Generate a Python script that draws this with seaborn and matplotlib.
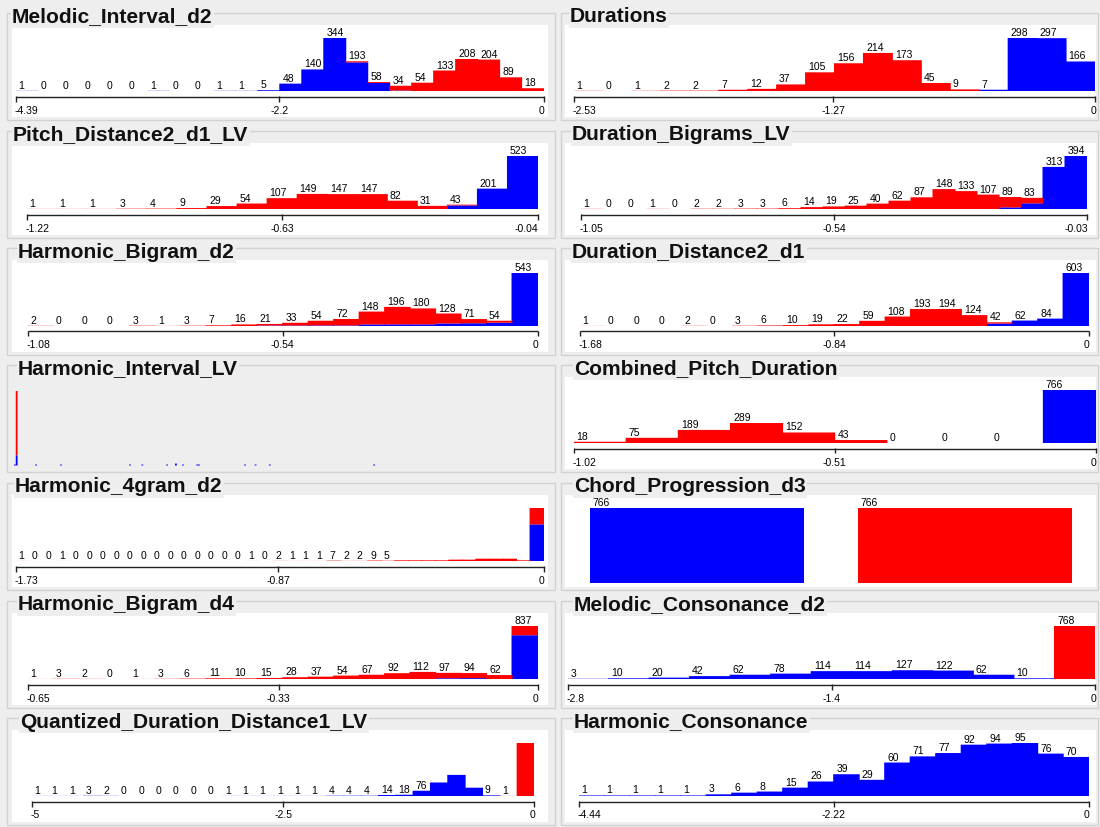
import numpy as np
import pandas as pd
import matplotlib
matplotlib.use("Agg")
import matplotlib.pyplot as plt
import seaborn as sns
from matplotlib import transforms
from matplotlib.patches import Rectangle

sns.set_theme(style="white")
plt.rcParams["font.family"] = ["Liberation Sans", "DejaVu Sans"]

W, H = 1100, 827
ROW = 117.5
BG = "#eeeeee"
EDGE = "#d2d2d2"
AXIS = "#222222"
PALETTE = {"blue": "#0000ff", "red": "#ff0000"}

# ---------------- bin counts (blue class / red class) ----------------
mel_int_blue = [1, 0, 0, 0, 0, 0, 1, 0, 0, 1, 1, 5, 48, 140, 344, 186, 52, 3, 0, 0, 0, 0, 0, 0]
mel_int_red = [0, 0, 0, 0, 0, 0, 0, 0, 0, 0, 0, 0, 0, 0, 0, 7, 6, 31, 54, 133, 208, 204, 89, 18]

dur_blue = [0, 0, 0, 0, 0, 0, 0, 0, 0, 0, 0, 0, 0, 0, 7, 298, 297, 166]
dur_red = [1, 0, 1, 2, 2, 7, 12, 37, 105, 156, 214, 173, 45, 9, 0, 0, 0, 0]

pd2_blue = [0, 0, 0, 0, 0, 0, 0, 0, 0, 0, 0, 0, 0, 0, 35, 201, 523]
pd2_red = [1, 1, 1, 3, 4, 9, 29, 54, 107, 149, 147, 147, 82, 31, 8, 0, 0]

dbg_blue = [0, 0, 0, 0, 0, 0, 0, 0, 0, 0, 0, 0, 0, 0, 0, 0, 0, 0, 0, 12, 42, 313, 394]
dbg_red = [1, 0, 0, 1, 0, 2, 2, 3, 3, 6, 14, 19, 25, 40, 62, 87, 148, 133, 107, 77, 41, 0, 0]

hb2_blue = [0, 0, 0, 0, 0, 0, 0, 0, 0, 5, 5, 6, 6, 16, 17, 17, 26, 28, 34, 543]
hb2_red = [2, 0, 0, 0, 3, 1, 3, 7, 16, 16, 28, 48, 66, 132, 179, 163, 102, 43, 20, 0]

dd2_blue = [0, 0, 0, 0, 0, 0, 0, 0, 0, 0, 0, 0, 0, 0, 0, 0, 28, 62, 84, 603]
dd2_red = [1, 0, 0, 0, 2, 0, 3, 6, 10, 19, 22, 59, 108, 193, 194, 124, 14, 0, 0, 0]

# harmonic interval: sparse bins on a 300-bin grid
hi_bins = [0, 1, 12, 26, 65, 72, 86, 91, 95, 103, 104, 130, 136, 144, 203]
hi_blue = [10, 105, 10, 10, 10, 10, 10, 20, 10, 10, 10, 10, 10, 10, 10]
hi_red = [0, 661, 0, 0, 0, 0, 0, 0, 0, 0, 0, 0, 0, 0, 0]

cpd_blue = [0, 0, 0, 0, 0, 0, 0, 0, 0, 766]
cpd_red = [18, 75, 189, 289, 152, 43, 0, 0, 0, 0]

h4_blue = [0] * 38 + [760]
h4_red = [1, 0, 0, 1, 0, 0, 0, 0, 0, 0, 0, 0, 0, 0, 0, 0, 0, 1, 0, 2, 1, 1, 1, 7, 2, 2, 9, 5,
          14, 14, 14, 14, 28, 28, 48, 48, 48, 14, 340]
h4_labels = [1, 0, 0, 1, 0, 0, 0, 0, 0, 0, 0, 0, 0, 0, 0, 0, 0, 1, 0, 2, 1, 1, 1, 7, 2, 2, 9, 5] + [None] * 11

chord_classes = ["blue", "red"]
chord_counts = [766, 766]

hb4_blue = [0, 0, 0, 0, 0, 0, 0, 0, 0, 0, 0, 0, 0, 0, 0, 0, 12, 14, 0, 691]
hb4_red = [1, 3, 2, 0, 1, 3, 6, 11, 10, 15, 28, 37, 54, 67, 92, 112, 85, 80, 62, 146]

mc_blue = [3, 10, 20, 42, 62, 78, 114, 114, 127, 122, 62, 10, 0]
mc_red = [0, 0, 0, 0, 0, 0, 0, 0, 0, 0, 0, 0, 768]

qdd_blue = [1, 1, 1, 3, 2, 0, 0, 0, 0, 0, 0, 1, 1, 1, 1, 1, 1, 4, 4, 4, 14, 18, 76, 195, 305, 120, 9, 1, 0]
qdd_red = [0] * 28 + [766]
qdd_labels = [1, 1, 1, 3, 2, 0, 0, 0, 0, 0, 0, 1, 1, 1, 1, 1, 1, 4, 4, 4, 14, 18, 76, None, None, None, 9, 1, None]

hc_blue = [1, 1, 1, 1, 1, 3, 6, 8, 15, 26, 39, 29, 60, 71, 77, 92, 94, 95, 76, 70]
hc_red = [0] * 20

# (title, column, row, blue, red, range, middle tick, tick texts, axis pixel span, labels)
PANELS = [
    ("Melodic_Interval_d2", 0, 0, mel_int_blue, mel_int_red, (-4.39, 0), -2.2, ("-4.39", "-2.2", "0"), (16, 543.6), None),
    ("Pitch_Distance2_d1_LV", 0, 1, pd2_blue, pd2_red, (-1.22, -0.04), -0.63, ("-1.22", "-0.63", "-0.04"), (26.8, 537.5), None),
    ("Harmonic_Bigram_d2", 0, 2, hb2_blue, hb2_red, (-1.08, 0), -0.54, ("-1.08", "-0.54", "0"), (27.9, 537.5), None),
    ("Harmonic_4gram_d2", 0, 4, h4_blue, h4_red, (-1.73, 0), -0.87, ("-1.73", "-0.87", "0"), (16, 543.6), h4_labels),
    ("Harmonic_Bigram_d4", 0, 5, hb4_blue, hb4_red, (-0.65, 0), -0.33, ("-0.65", "-0.33", "0"), (27.9, 537.5), None),
    ("Quantized_Duration_Distance1_LV", 0, 6, qdd_blue, qdd_red, (-5, 0), -2.5, ("-5", "-2.5", "0"), (31.6, 534.5), qdd_labels),
    ("Durations", 1, 0, dur_blue, dur_red, (-2.53, 0), -1.27, ("-2.53", "-1.27", "0"), (574, 1095), None),
    ("Duration_Bigrams_LV", 1, 1, dbg_blue, dbg_red, (-1.05, -0.03), -0.54, ("-1.05", "-0.54", "-0.03"), (581, 1087), None),
    ("Duration_Distance2_d1", 1, 2, dd2_blue, dd2_red, (-1.68, 0), -0.84, ("-1.68", "-0.84", "0"), (580, 1088.5), None),
    ("Combined_Pitch_Duration", 1, 3, cpd_blue, cpd_red, (-1.02, 0), -0.51, ("-1.02", "-0.51", "0"), (574, 1095.5), None),
    ("Melodic_Consonance_d2", 1, 5, mc_blue, mc_red, (-2.8, 0), -1.4, ("-2.8", "-1.4", "0"), (568, 1095), None),
    ("Harmonic_Consonance", 1, 6, hc_blue, hc_red, (-4.44, 0), -2.22, ("-4.44", "-2.22", "0"), (578.7, 1088.7), None),
]

TITLE_X = {
    "Melodic_Interval_d2": 12, "Pitch_Distance2_d1_LV": 13, "Harmonic_Bigram_d2": 18,
    "Harmonic_Interval_LV": 18, "Harmonic_4gram_d2": 15, "Harmonic_Bigram_d4": 18,
    "Quantized_Duration_Distance1_LV": 20, "Durations": 570, "Duration_Bigrams_LV": 572,
    "Duration_Distance2_d1": 572, "Combined_Pitch_Duration": 574, "Chord_Progression_d3": 574,
    "Melodic_Consonance_d2": 574, "Harmonic_Consonance": 574,
}

COL_FRAME = [(7, 555), (561, 1098)]
COL_WHITE = [(12, 548), (565, 1096)]

fig = plt.figure(figsize=(W / 100, H / 100), dpi=100)
fig.patch.set_facecolor(BG)


def fx(x):
    return x / W


def fy(y):
    return 1 - y / H


def row_top(row):
    return round(row * ROW)


def panel_frame(title, col, row, white=True):
    top = row_top(row)
    x0, x1 = COL_FRAME[col]
    fig.add_artist(Rectangle((fx(x0), fy(top + 120)), fx(x1 - x0), 107 / H,
                             transform=fig.transFigure, facecolor="none",
                             edgecolor=EDGE, lw=1, zorder=-2))
    if white:
        w0, w1 = COL_WHITE[col]
        fig.add_artist(Rectangle((fx(w0), fy(top + 117)), fx(w1 - w0), 92 / H,
                                 transform=fig.transFigure, facecolor="white",
                                 edgecolor="none", zorder=-1))
    fig.text(fx(TITLE_X[title]), fy(top + 22.5), title, fontsize=15.1, fontweight="bold",
             ha="left", va="baseline", color="#111111", zorder=3,
             bbox=dict(facecolor=BG, edgecolor="none", pad=1.0))


def stacked_hist(ax, lo, hi, blue, red, bin_px):
    n = len(blue)
    edges = np.linspace(lo, hi, n + 1)
    centers = (edges[:-1] + edges[1:]) / 2
    df = pd.DataFrame({
        "value": np.concatenate([centers, centers]),
        "count": np.concatenate([blue, red]).astype(float),
        "side": ["blue"] * n + ["red"] * n,
    })
    # widen each bar by one pixel so neighbouring bins join without seams
    sns.histplot(data=df, x="value", weights="count", hue="side",
                 hue_order=["red", "blue"], palette=PALETTE, multiple="stack",
                 bins=n, binrange=(lo, hi), stat="count", element="bars",
                 shrink=1 + 1.0 / bin_px, linewidth=0, alpha=1, snap=False,
                 legend=False, ax=ax)
    total = np.asarray(blue) + np.asarray(red)
    ax.set_xlim(lo, hi)
    ax.set_ylim(0, total.max())
    ax.set_axis_off()
    return edges, total


for title, col, row, blue, red, (lo, hi), mid, ticks, (px0, px1), labels in PANELS:
    panel_frame(title, col, row)
    top = row_top(row)
    base = top + 91
    ax = fig.add_axes([fx(px0), fy(base), fx(px1 - px0), 53 / H])
    edges, total = stacked_hist(ax, lo, hi, blue, red, (px1 - px0) / len(blue))
    if labels is None:
        labels = list(total)
    for i, lab in enumerate(labels):
        if lab is None:
            continue
        ax.annotate(str(lab), xy=(edges[i], total[i]), xytext=(2.5, 2),
                    textcoords="offset pixels", ha="left", va="baseline",
                    fontsize=7.5, color="black", annotation_clip=False)
    tr = transforms.blended_transform_factory(ax.transData, fig.transFigure)
    ya = fy(top + 96.5)
    ax.plot([lo, hi], [ya, ya], transform=tr, color=AXIS, lw=1, clip_on=False,
            solid_capstyle="butt")
    for v in (lo, mid, hi):
        ax.plot([v, v], [fy(top + 95.5), fy(top + 101.5)], transform=tr, color=AXIS,
                lw=1, clip_on=False, solid_capstyle="butt")
    yt = fy(top + 110.5)
    ax.text(lo, yt, ticks[0], transform=transforms.offset_copy(tr, fig=fig, x=-1, units="dots"),
            ha="left", va="center", fontsize=7.5, color="black")
    ax.text(mid, yt, ticks[1], transform=tr, ha="center", va="center", fontsize=7.5, color="black")
    ax.text(hi, yt, ticks[2], transform=transforms.offset_copy(tr, fig=fig, x=1, units="dots"),
            ha="right", va="center", fontsize=7.5, color="black")
    ax.set_xlim(lo, hi)

# Harmonic_Interval_LV: grey panel, many narrow bins, no axis
panel_frame("Harmonic_Interval_LV", 0, 3, white=False)
top = row_top(3)
ax = fig.add_axes([fx(14), fy(top + 113.5), fx(531), 75 / H])
hi_df = pd.DataFrame({
    "value": np.concatenate([np.asarray(hi_bins) + 0.5] * 2),
    "count": np.concatenate([hi_blue, hi_red]).astype(float),
    "side": ["blue"] * len(hi_bins) + ["red"] * len(hi_bins),
})
sns.histplot(data=hi_df, x="value", weights="count", hue="side", hue_order=["red", "blue"],
             palette=PALETTE, multiple="stack", bins=300, binrange=(0, 300), stat="count",
             element="bars", linewidth=0, alpha=1, snap=False, legend=False, ax=ax)
ax.set_xlim(0, 300)
ax.set_ylim(0, max(b + r for b, r in zip(hi_blue, hi_red)))
ax.set_axis_off()

# Chord_Progression_d3: two category bars
panel_frame("Chord_Progression_d3", 1, 4)
top = row_top(4)
ax = fig.add_axes([fx(563), fy(top + 113), fx(536), 75 / H])
ax.set_zorder(4)
sns.barplot(x=chord_classes, y=chord_counts, hue=chord_classes, palette=PALETTE,
            width=0.8, saturation=1, linewidth=0, legend=False, ax=ax)
ax.set_xlim(-0.5, 1.5)
ax.set_ylim(0, max(chord_counts))
ax.set_axis_off()
for i, c in enumerate(chord_counts):
    ax.annotate(str(c), xy=(i - 0.4, c), xytext=(2.5, 2), textcoords="offset pixels",
                ha="left", va="baseline", fontsize=7.5, color="black", annotation_clip=False)

fig.savefig("out.png", dpi=100, facecolor=BG)
